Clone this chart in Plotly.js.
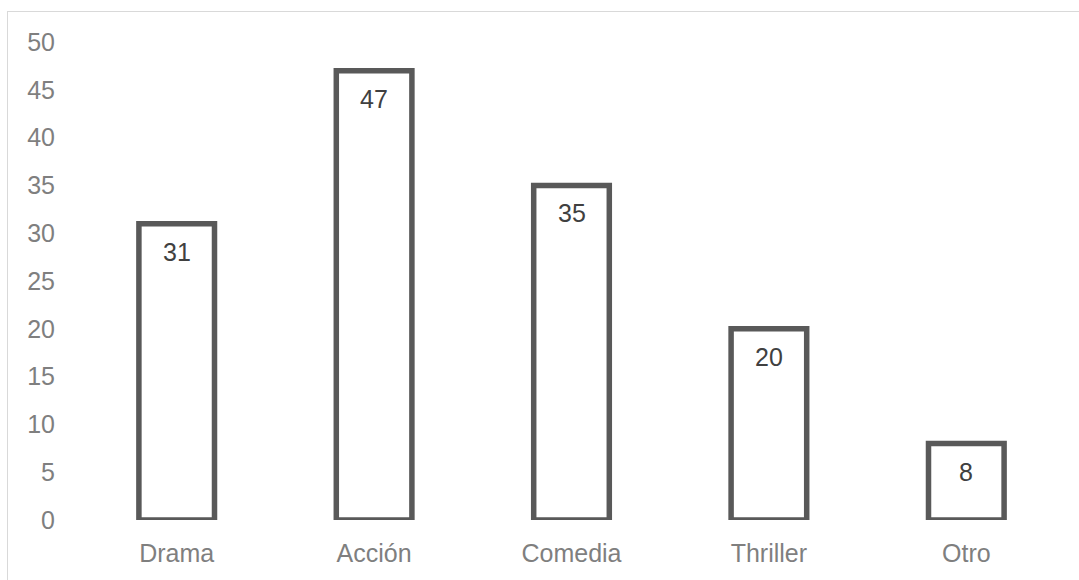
<!DOCTYPE html>
<html>
<head>
<meta charset="utf-8">
<script src="https://cdn.plot.ly/plotly-3.0.1.min.js"></script>
<style>
  html, body { margin: 0; padding: 0; background: #ffffff; overflow: hidden; }
  #wrap { position: relative; width: 1079px; height: 580px; overflow: hidden; }
  #chart { width: 1079px; height: 580px; }
  #frame {
    position: absolute; left: 7px; top: 11px; width: 1080px; height: 620px;
    border: 1.5px solid #d9d9d9; box-sizing: border-box; pointer-events: none;
  }
</style>
</head>
<body>
<div id="wrap">
  <div id="chart"></div>
  <div id="frame"></div>
</div>
<script>
// Género preferido: número de respuestas
const categories = ["Drama", "Acción", "Comedia", "Thriller", "Otro"];
const values = [31, 47, 35, 20, 8];
const tickValues = [0, 5, 10, 15, 20, 25, 30, 35, 40, 45, 50];

const fontFamily = "'Liberation Sans', Arial, sans-serif";

const bars = {
  type: "bar",
  x: categories,
  y: values,
  width: 0.383,
  marker: {
    color: "rgba(255,255,255,1)",
    line: { color: "#595959", width: 5.5 }
  },
  hoverinfo: "skip",
  showlegend: false
};

// value labels placed just inside the top of each bar
const valueLabels = categories.map((c, i) => ({
  x: c,
  y: values[i],
  xref: "x",
  yref: "y",
  text: String(values[i]),
  showarrow: false,
  yanchor: "middle",
  yshift: -28,
  font: { family: fontFamily, size: 25, color: "#404040" }
}));

const layout = {
  width: 1079,
  height: 580,
  margin: { l: 78, r: 14, t: 42, b: 60 },
  paper_bgcolor: "#ffffff",
  plot_bgcolor: "#ffffff",
  bargap: 0.617,
  xaxis: {
    type: "category",
    showgrid: false,
    zeroline: false,
    showline: false,
    ticks: "",
    ticklabelstandoff: 16,
    tickfont: { family: fontFamily, size: 25, color: "#7f7f7f" }
  },
  yaxis: {
    range: [0, 50],
    tickvals: tickValues,
    ticktext: tickValues.map(String),
    showgrid: false,
    zeroline: false,
    showline: false,
    ticks: "",
    ticklabelstandoff: 22,
    tickfont: { family: fontFamily, size: 25, color: "#7f7f7f" }
  },
  annotations: valueLabels
};

Plotly.newPlot("chart", [bars], layout, { staticPlot: true, displayModeBar: false });
</script>
</body>
</html>
